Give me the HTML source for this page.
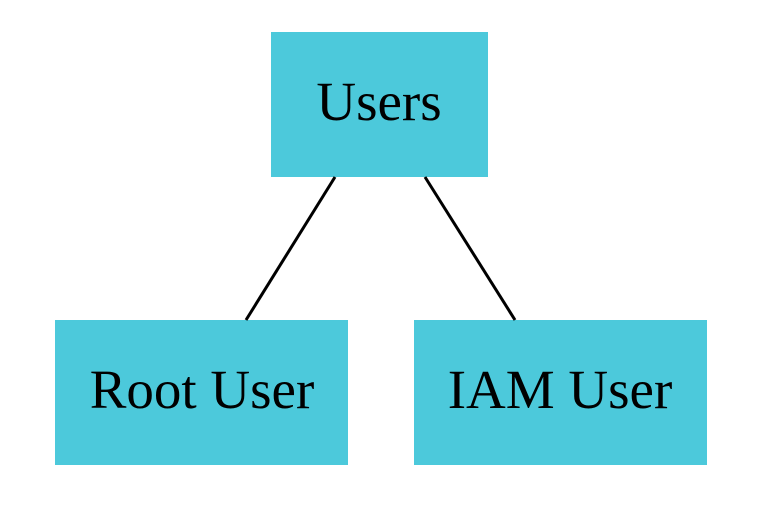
<!DOCTYPE html>
<html><head><style>
html,body{margin:0;padding:0;background:#fff;}
</style></head><body>
<svg width="762" height="502" xmlns="http://www.w3.org/2000/svg">
<rect x="0" y="0" width="762" height="502" fill="#fff"/>
<rect x="271" y="32" width="217" height="145" fill="#4cc9db"/>
<rect x="55" y="320" width="293" height="145" fill="#4cc9db"/>
<rect x="414" y="320" width="293" height="145" fill="#4cc9db"/>
<line x1="335" y1="177" x2="246" y2="320" stroke="#000" stroke-width="3"/>
<line x1="425" y1="177" x2="515" y2="320" stroke="#000" stroke-width="3"/>
<g font-family="Liberation Serif, serif" font-size="55" fill="#000" text-anchor="middle">
<text x="379" y="120">Users</text>
<text x="202" y="408">Root User</text>
<text x="560" y="408">IAM User</text>
</g>
</svg>
</body></html>
